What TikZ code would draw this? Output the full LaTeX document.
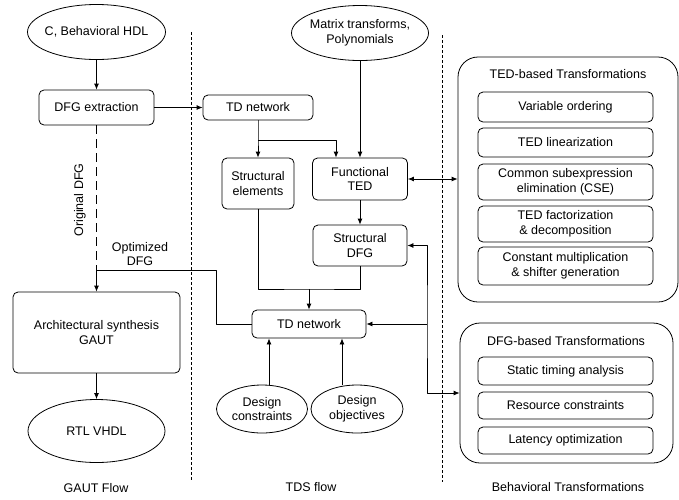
\documentclass[tikz,border=0pt]{standalone}
\usepackage{fontspec}
\setmainfont{Liberation Sans}
\usetikzlibrary{shapes.geometric,arrows.meta}
\begin{document}
\begin{tikzpicture}[x=1pt,y=-1pt,line join=round,>={Latex[length=6pt,width=5pt]},line width=0.8pt]
	\tikzset{every node/.style={font=\fontsize{12.5}{14.5}\selectfont,align=center,inner sep=0pt},
		box/.style={draw,rounded corners=5pt},
		tbox/.style={box,minimum width=175pt},
		ell/.style={draw,ellipse,inner xsep=-8pt,inner ysep=0pt},
		group/.style={draw,rounded corners=20pt},
		divider/.style={dash pattern=on 3pt off 2pt,line width=0.7pt}}
	\useasboundingbox (0,0) rectangle (679,499);
	% GAUT flow
	\node[ell,minimum width=138pt,minimum height=55pt] (chdl) at (96.5,32) {C, Behavioral HDL};
	\node[box,minimum width=115pt,minimum height=35pt] (dfgx) at (96.5,107.5) {DFG extraction};
	\node[box,minimum width=167pt,minimum height=81pt] (arch) at (96.5,332.5) {Architectural synthesis\\GAUT};
	\node[ell,minimum width=137pt,minimum height=63pt] (rtl) at (96.5,431) {RTL VHDL};
	\node[rotate=90] (origlbl) at (80,200) {Original DFG};
	\node (optlbl) at (140,254) {Optimized\\DFG};
	% TDS flow
	\node[ell,minimum width=137pt,minimum height=55pt] (matrix) at (360,33) {Matrix transforms,\\Polynomials};
	\node[box,minimum width=110pt,minimum height=25pt] (tdnet) at (258,107.5) {TD network};
	\node[box,minimum width=72pt,minimum height=51pt] (selem) at (258,183.5) {Structural\\elements};
	\node[box,minimum width=95pt,minimum height=42pt] (fted) at (360,179) {Functional\\TED};
	\node[box,minimum width=94pt,minimum height=41pt] (sdfg) at (360,245.5) {Structural\\DFG};
	\node[box,minimum width=114pt,minimum height=28pt] (tdnetb) at (309,324) {TD network};
	\node[ell,minimum width=91pt,minimum height=48pt] (dcon) at (262,409) {Design\\constraints};
	\node[ell,minimum width=92pt,minimum height=48pt] (dobj) at (357,409) {Design\\objectives};
	% transformations
	\node[group,minimum width=220pt,minimum height=245pt] (tedgrp) at (568,179.5) {};
	\node (tedttl) at (568,74) {TED-based Transformations};
	\node[tbox,minimum height=30pt] (vord) at (565.5,107) {Variable ordering};
	\node[tbox,minimum height=29pt] (tlin) at (565.5,142.5) {TED linearization};
	\node[tbox,minimum height=36pt] (cse) at (565.5,182) {Common subexpression\\elimination (CSE)};
	\node[tbox,minimum height=36pt] (tfac) at (565.5,224) {TED factorization\\\& decomposition};
	\node[tbox,minimum height=38pt] (cmul) at (565.5,266) {Constant multiplication\\\& shifter generation};
	\node[group,minimum width=213pt,minimum height=140pt] (dfggrp) at (566.5,393) {};
	\node (dfgttl) at (566,341) {DFG-based Transformations};
	\node[tbox,minimum height=28pt] (sta) at (565.5,371) {Static timing analysis};
	\node[tbox,minimum height=27pt] (res) at (565.5,405.5) {Resource constraints};
	\node[tbox,minimum height=27pt] (lat) at (565.5,440.5) {Latency optimization};
	% flow names
	\node (gautlbl) at (96,488) {GAUT Flow};
	\node (tdslbl) at (311,487) {TDS flow};
	\node (behlbl) at (568,487) {Behavioral Transformations};
	\draw[divider] (191,32) -- (191,481) (442,35) -- (442,482);
	% connectors
	\coordinate (optbend) at (216,270);
	\coordinate (split) at (258,140);
	\coordinate (merge) at (309,289);
	\coordinate (bus) at (427,324);
	\draw[->] (chdl.south) -- (dfgx.north);
	\draw[->] (dfgx) -- (tdnet);
	\draw[dash pattern=on 9pt off 5pt] (dfgx.south) -- (dfgx.south |- optbend);
	\draw[->] (tdnetb.west) -| (optbend) -| (arch.north);
	\draw[->] (arch) -- (rtl);
	\draw[->] (tdnet.south) -- (split) -- (selem.north);
	\draw[->] (split) -| ([xshift=-24pt]fted.north);
	\draw[->] (matrix.south) -- (fted.north);
	\draw[->] (fted) -- (sdfg);
	\draw (selem.south) |- (merge) -| (sdfg.south);
	\draw[->] (merge) -- (tdnetb.north);
	\draw[<-] ([xshift=-40pt]tdnetb.south) -- ([xshift=-40pt]tdnetb.south |- dcon.north);
	\draw[<-] ([xshift=33pt]tdnetb.south) -- ([xshift=33pt]tdnetb.south |- dobj.north);
	\draw[<->] (fted.east) -- (fted.east -| tedgrp.west);
	\draw[<->] (sdfg.east) -| (bus) |- (dfggrp.west);
	\draw[->] (bus) -- (tdnetb.east);
\end{tikzpicture}
\end{document}
